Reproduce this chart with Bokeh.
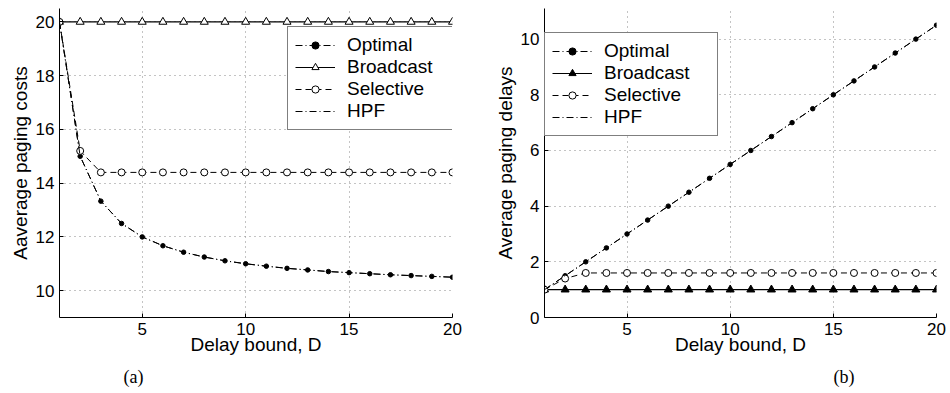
from bokeh.plotting import figure
from bokeh.layouts import row
from bokeh.models import Legend, LegendItem, Title, FixedTicker, Range1d
from bokeh.embed import file_html
from bokeh.resources import INLINE

# ---------------- data ----------------
D = [1, 2, 3, 4, 5, 6, 7, 8, 9, 10, 11, 12, 13, 14, 15, 16, 17, 18, 19, 20]

cost_optimal = [20, 15, 13.33, 12.5, 12, 11.67, 11.43, 11.25, 11.11, 11,
                10.91, 10.83, 10.77, 10.71, 10.67, 10.63, 10.59, 10.56, 10.53, 10.5]
cost_broadcast = [20, 20, 20, 20, 20, 20, 20, 20, 20, 20,
                  20, 20, 20, 20, 20, 20, 20, 20, 20, 20]
cost_selective = [20, 15.2, 14.4, 14.4, 14.4, 14.4, 14.4, 14.4, 14.4, 14.4,
                  14.4, 14.4, 14.4, 14.4, 14.4, 14.4, 14.4, 14.4, 14.4, 14.4]
cost_hpf = [20, 15, 13.33, 12.5, 12, 11.67, 11.43, 11.25, 11.11, 11,
            10.91, 10.83, 10.77, 10.71, 10.67, 10.63, 10.59, 10.56, 10.53, 10.5]

delay_optimal = [1, 1.5, 2, 2.5, 3, 3.5, 4, 4.5, 5, 5.5,
                 6, 6.5, 7, 7.5, 8, 8.5, 9, 9.5, 10, 10.5]
delay_broadcast = [1, 1, 1, 1, 1, 1, 1, 1, 1, 1,
                   1, 1, 1, 1, 1, 1, 1, 1, 1, 1]
delay_selective = [1, 1.4, 1.6, 1.6, 1.6, 1.6, 1.6, 1.6, 1.6, 1.6,
                   1.6, 1.6, 1.6, 1.6, 1.6, 1.6, 1.6, 1.6, 1.6, 1.6]
delay_hpf = [1, 1.5, 2, 2.5, 3, 3.5, 4, 4.5, 5, 5.5,
             6, 6.5, 7, 7.5, 8, 8.5, 9, 9.5, 10, 10.5]

x_ticks = [5, 10, 15, 20]
cost_ticks = [10, 12, 14, 16, 18, 20]
delay_ticks = [0, 2, 4, 6, 8, 10]

SANS = "Liberation Sans"
SERIF = "Liberation Serif"
DASHDOT = "7 3 1 3"
DASHED = "6 4"


def make_fig(width, border_left, border_right, y_range, y_ticks, y_label,
             sub_label, sub_offset):
    p = figure(width=width, height=393, output_backend="svg",
               toolbar_location=None, x_range=Range1d(1, 20),
               y_range=Range1d(*y_range),
               min_border_left=border_left, min_border_right=border_right,
               min_border_top=8, min_border_bottom=75)
    p.outline_line_color = None
    p.background_fill_color = "white"
    p.border_fill_color = "white"
    p.xaxis.ticker = FixedTicker(ticks=x_ticks)
    p.yaxis.ticker = FixedTicker(ticks=y_ticks)
    for ax in (p.xaxis[0], p.yaxis[0]):
        ax.major_tick_in = 4
        ax.major_tick_out = 0
        ax.minor_tick_line_color = None
        ax.axis_line_color = "black"
        ax.major_tick_line_color = "black"
        ax.major_label_text_font = SANS
        ax.major_label_text_font_size = "17px"
        ax.major_label_text_color = "black"
        ax.axis_label_text_font = SANS
        ax.axis_label_text_font_size = "19px"
        ax.axis_label_text_font_style = "normal"
        ax.axis_label_text_color = "black"
    p.xaxis.major_label_standoff = 5
    p.xaxis.axis_label = "Delay bound, D"
    p.xaxis.axis_label_standoff = -4
    p.yaxis.major_label_standoff = 5
    p.yaxis.axis_label = y_label
    p.yaxis.axis_label_standoff = 2
    for g in (p.xgrid[0], p.ygrid[0]):
        g.grid_line_color = "#888888"
        g.grid_line_dash = "1 4"
        g.grid_line_width = 1
    t = Title(text=sub_label, align="left", offset=sub_offset,
              text_font=SERIF, text_font_size="18px",
              text_font_style="normal", text_color="black", standoff=14)
    p.add_layout(t, "below")
    return p


def add_series(p, opt, bro, sel, hpf, tri_fill, legend_x, legend_y, lw):
    r_opt_l = p.line(D, opt, line_color="black", line_width=1, line_dash=DASHDOT)
    r_opt_m = p.scatter(D, opt, marker="circle", size=4.5, fill_color="black",
                        line_color="black")
    r_bro_l = p.line(D, bro, line_color="black", line_width=1.2)
    r_bro_m = p.scatter(D, bro, marker="triangle", size=8, fill_color=tri_fill,
                        line_color="black", line_width=1)
    r_sel_l = p.line(D, sel, line_color="black", line_width=1, line_dash=DASHED)
    r_sel_m = p.scatter(D, sel, marker="circle", size=7, fill_color="white",
                        line_color="black", line_width=1)
    r_hpf = p.line(D, hpf, line_color="black", line_width=1, line_dash=DASHDOT)
    items = [
        LegendItem(label="Optimal", renderers=[r_opt_l, r_opt_m]),
        LegendItem(label="Broadcast", renderers=[r_bro_l, r_bro_m]),
        LegendItem(label="Selective", renderers=[r_sel_l, r_sel_m]),
        LegendItem(label="HPF", renderers=[r_hpf]),
    ]
    leg = Legend(items=items, location=(legend_x, legend_y),
                 label_text_font=SANS, label_text_font_size="19px",
                 label_text_color="black",
                 glyph_width=40, glyph_height=18, label_height=18,
                 label_width=lw,
                 label_standoff=12, spacing=0, padding=7, margin=0,
                 border_line_color="black", border_line_width=1,
                 background_fill_color="white", background_fill_alpha=1)
    p.add_layout(leg, "center")


p1 = make_fig(491, 59, 39, (9, 20.5), cost_ticks, "Aaverage paging costs",
              "(a)", 64)
add_series(p1, cost_optimal, cost_broadcast, cost_selective, cost_hpf,
           "white", 228, 187, 99)

p2 = make_fig(459, 52, 14, (0, 11.1), delay_ticks, "Average paging delays",
              "(b)", 289)
add_series(p2, delay_optimal, delay_broadcast, delay_selective, delay_hpf,
           "black", 0, 181, 106)

layout = row(p1, p2, spacing=0)
open("out.html", "w").write(file_html(layout, INLINE))
